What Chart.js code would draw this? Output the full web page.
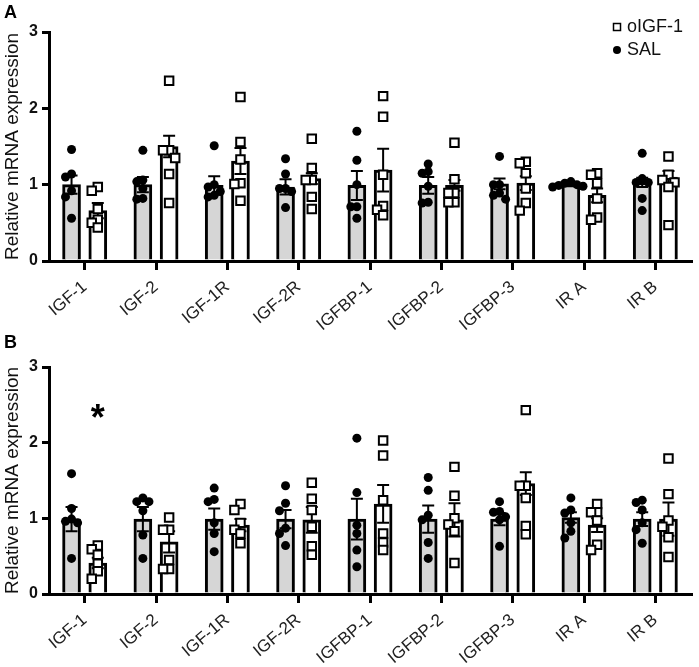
<!DOCTYPE html>
<html>
<head>
<meta charset="utf-8">
<script src="https://cdn.jsdelivr.net/npm/chart.js@4/dist/chart.umd.min.js"></script>
<style>
  body { margin: 0; background: #fff; }
  canvas { display: block; }
</style>
</head>
<body>
<canvas id="panelA" width="699" height="330"></canvas>
<canvas id="panelB" width="699" height="337"></canvas>
<script>
const categories = ["IGF-1", "IGF-2", "IGF-1R", "IGF-2R", "IGFBP-1", "IGFBP-2", "IGFBP-3", "IR A", "IR B"];
const yTicks = [0, 1, 2, 3];

// Panel A
const salMeanA = [1.00, 1.00, 0.99, 0.97, 0.99, 0.99, 1.01, 1.00, 1.03];
const salSemA = [0.12, 0.10, 0.12, 0.10, 0.19, 0.11, 0.07, 0.01, 0.06];
const igfMeanA = [0.66, 1.50, 1.31, 1.08, 1.19, 0.99, 1.02, 0.86, 1.10];
const igfSemA = [0.10, 0.14, 0.17, 0.07, 0.28, 0.07, 0.09, 0.09, 0.08];
const salPtsA = [
  [1.46, 1.14, 1.10, 0.92, 0.84, 0.56],
  [1.45, 1.06, 1.04, 0.95, 0.82, 0.81],
  [1.51, 1.00, 0.97, 0.91, 0.86, 0.84],
  [1.34, 1.14, 0.95, 0.95, 0.91, 0.70],
  [1.70, 1.32, 1.00, 0.71, 0.71, 0.56],
  [1.27, 1.17, 1.15, 0.98, 0.77, 0.76],
  [1.37, 1.00, 1.00, 0.89, 0.86, 0.81],
  [1.04, 1.02, 1.00, 0.99, 0.98, 0.97],
  [1.41, 1.08, 1.03, 1.03, 0.82, 0.66]
];
const igfPtsA = [
  [0.97, 0.92, 0.68, 0.54, 0.50, 0.44],
  [2.36, 1.45, 1.45, 1.35, 1.14, 0.76],
  [2.15, 1.56, 1.33, 1.02, 1.01, 0.79],
  [1.60, 1.22, 1.06, 1.06, 0.84, 0.68],
  [2.16, 1.89, 1.13, 0.72, 0.67, 0.60],
  [1.55, 1.07, 0.89, 0.89, 0.77, 0.77],
  [1.30, 1.28, 1.15, 0.95, 0.76, 0.66],
  [1.15, 1.13, 1.02, 0.82, 0.57, 0.54],
  [1.37, 1.13, 1.06, 1.03, 0.97, 0.47]
];

// Panel B
const salMeanB = [0.99, 0.99, 0.99, 0.99, 0.99, 0.99, 0.99, 1.01, 0.99];
const salSemB = [0.16, 0.16, 0.14, 0.12, 0.27, 0.18, 0.08, 0.07, 0.09];
const igfMeanB = [0.41, 0.69, 0.91, 0.98, 1.19, 0.98, 1.46, 0.91, 0.99];
const igfSemB = [0.07, 0.14, 0.08, 0.17, 0.25, 0.22, 0.15, 0.09, 0.22];
const salPtsB = [
  [1.59, 1.13, 0.99, 0.96, 0.94, 0.47],
  [1.27, 1.22, 1.22, 1.10, 0.78, 0.47],
  [1.40, 1.25, 1.22, 0.94, 0.80, 0.56],
  [1.43, 1.20, 1.10, 0.87, 0.80, 0.64],
  [2.06, 1.34, 0.91, 0.80, 0.58, 0.36],
  [1.54, 1.37, 1.04, 0.98, 0.68, 0.47],
  [1.22, 1.09, 1.08, 1.02, 0.98, 0.63],
  [1.27, 1.11, 1.07, 0.94, 0.83, 0.74],
  [1.24, 1.21, 1.11, 0.94, 0.85, 0.67]
];
const igfPtsB = [
  [0.64, 0.59, 0.52, 0.40, 0.30, 0.20],
  [1.01, 0.85, 0.85, 0.45, 0.33, 0.33],
  [1.19, 1.11, 0.94, 0.85, 0.80, 0.67],
  [1.47, 1.26, 1.11, 0.89, 0.63, 0.52],
  [2.03, 1.83, 1.24, 0.80, 0.68, 0.58],
  [1.68, 1.30, 1.00, 0.92, 0.83, 0.41],
  [2.43, 1.43, 1.43, 1.27, 0.90, 0.79],
  [1.19, 1.08, 1.08, 0.97, 0.65, 0.58],
  [1.79, 1.32, 0.97, 0.89, 0.75, 0.49]
];
// significance marks over the oIGF-1 bars, panel B
const starsB = ["*", "", "", "", "", "", "", "", ""];
const starLevel = 2.43;

const FONT = "Arial, 'Liberation Sans', sans-serif";
const groupShift = 0.184;   // half the distance between the two bars, in categories

// spread points with close values sideways, like a prism scatter
const spread = (values) => {
  const slots = [0, -1, 1, -2, 2, -3, 3];
  const placed = [];
  return values.map(v => {
    const near = placed.filter(p => Math.abs(p.v - v) < 0.1).map(p => p.s);
    const s = slots.find(k => !near.includes(k));
    placed.push({ v, s });
    return s * 0.085;
  });
};

const toPoints = (pts, shift) => {
  let out = [];
  pts.forEach((vals, i) => {
    const jit = spread(vals);
    vals.forEach((v, j) => out.push({ x: i + shift + jit[j], y: v }));
  });
  return out;
};

const toBars = (means, shift) => means.map((m, i) => ({ x: i + shift, y: m }));

const errorBars = {
  id: "errorBars",
  afterDatasetDraw(chart, args) {
    const ds = chart.data.datasets[args.index];
    if (!ds.sem) return;
    const ctx = chart.ctx;
    const y = chart.scales.y;
    ctx.save();
    ctx.strokeStyle = "#000";
    ctx.lineWidth = 2;
    args.meta.data.forEach((bar, i) => {
      const m = ds.data[i].y;
      const top = y.getPixelForValue(m + ds.sem[i]);
      const bot = y.getPixelForValue(m - ds.sem[i]);
      ctx.beginPath();
      ctx.moveTo(bar.x, bot);
      ctx.lineTo(bar.x, top);
      ctx.moveTo(bar.x - 6, top);
      ctx.lineTo(bar.x + 6, top);
      ctx.moveTo(bar.x - 6, bot);
      ctx.lineTo(bar.x + 6, bot);
      ctx.stroke();
    });
    ctx.restore();
  }
};

const decor = {
  id: "decor",
  afterDraw(chart, args, opts) {
    const ctx = chart.ctx;
    ctx.save();
    ctx.fillStyle = "#000";
    ctx.font = "bold 18px " + FONT;
    ctx.textBaseline = "top";
    ctx.fillText(opts.letter, 4, 4);

    if (opts.legend) {
      ctx.font = "18px " + FONT;
      ctx.textBaseline = "middle";
      ctx.fillStyle = "#111";
      ctx.fillText("oIGF-1", 627, 27);
      ctx.fillText("SAL", 627, 50);
      ctx.strokeStyle = "#000";
      ctx.lineWidth = 1.5;
      ctx.strokeRect(613.5, 23.5, 7, 7);
      ctx.fillStyle = "#000";
      ctx.beginPath();
      ctx.arc(617, 50, 4, 0, Math.PI * 2);
      ctx.fill();
    }

    if (opts.stars) {
      const xs = chart.scales.xs;
      const y = chart.scales.y;
      ctx.font = "bold 36px " + FONT;
      ctx.textAlign = "center";
      ctx.textBaseline = "alphabetic";
      opts.stars.forEach((s, i) => {
        if (!s) return;
        ctx.fillText(s, xs.getPixelForValue(i + groupShift), y.getPixelForValue(starLevel) + 20);
      });
    }
    ctx.restore();
  }
};

const makePanel = (id, letter, salMean, salSem, igfMean, igfSem, salPts, igfPts, opts) => {
  const barStyle = {
    borderColor: "#000",
    borderWidth: 3,
    barThickness: 18,
    grouped: false,
    xAxisID: "xs",
    order: 2
  };
  return new Chart(document.getElementById(id), {
    type: "bar",
    data: {
      labels: categories,
      datasets: [
        Object.assign({ label: "SAL", data: toBars(salMean, -groupShift), sem: salSem, backgroundColor: "#d6d6d6" }, barStyle),
        Object.assign({ label: "oIGF-1", data: toBars(igfMean, groupShift), sem: igfSem, backgroundColor: "#fff" }, barStyle),
        {
          type: "scatter",
          label: "SAL points",
          data: toPoints(salPts, -groupShift),
          xAxisID: "xs",
          pointStyle: "circle",
          pointRadius: 4.5,
          backgroundColor: "#000",
          borderColor: "#000",
          borderWidth: 0,
          order: 1
        },
        {
          type: "scatter",
          label: "oIGF-1 points",
          data: toPoints(igfPts, groupShift),
          xAxisID: "xs",
          pointStyle: "rect",
          pointRadius: 6,
          backgroundColor: "#fff",
          borderColor: "#000",
          borderWidth: 2,
          order: 1
        }
      ]
    },
    options: {
      responsive: false,
      animation: false,
      layout: { padding: { top: opts.top, right: 0, left: 0, bottom: 0 } },
      plugins: {
        legend: { display: false },
        tooltip: { enabled: false },
        decor: { letter, legend: opts.legend, stars: opts.stars }
      },
      scales: {
        x: {
          type: "category",
          offset: true,
          grid: { offset: false, drawOnChartArea: false, color: "#000", lineWidth: 3, tickLength: 9 },
          border: { color: "#000", width: 3 },
          ticks: {
            color: "#222",
            font: { size: 17, family: FONT },
            minRotation: 40,
            maxRotation: 40,
            autoSkip: false,
            padding: 7
          },
          afterFit: (s) => { s.height = opts.axisH; }
        },
        xs: {
          type: "linear",
          display: false,
          offset: false,
          grace: 0,
          min: -0.5,
          max: categories.length - 0.5
        },
        y: {
          min: 0,
          max: 3,
          afterBuildTicks: (s) => { s.ticks = yTicks.map(v => ({ value: v })); },
          ticks: { color: "#111", font: { size: 16, weight: "bold", family: FONT }, padding: 4 },
          grid: { drawOnChartArea: false, color: "#000", lineWidth: 3, tickLength: 7 },
          border: { color: "#000", width: 3 },
          title: {
            display: true,
            text: "Relative mRNA expression",
            color: "#111",
            font: { size: 19, family: FONT },
            padding: { top: 1, bottom: 0 }
          },
          afterFit: (s) => { s.width = 49; }
        }
      }
    },
    plugins: [errorBars, decor]
  });
};

makePanel("panelA", "A", salMeanA, salSemA, igfMeanA, igfSemA, salPtsA, igfPtsA,
  { top: 32, axisH: 69, legend: true, stars: null });
makePanel("panelB", "B", salMeanB, salSemB, igfMeanB, igfSemB, salPtsB, igfPtsB,
  { top: 37, axisH: 73, legend: false, stars: starsB });
</script>
</body>
</html>
